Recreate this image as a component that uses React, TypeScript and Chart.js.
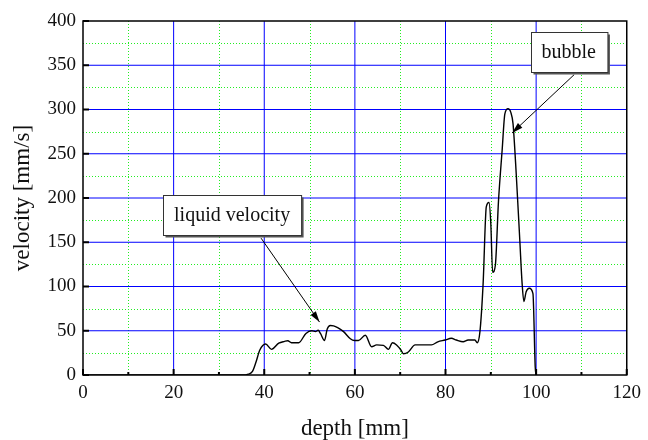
import React, { useEffect, useRef } from "react";
import { Chart, registerables } from "chart.js";

Chart.register(...registerables);

// Velocity profile along the measuring line
const depthMm = [
  0, 35, 36.5, 37.4, 38.2, 39, 40.3, 41.6, 43.2, 44.5, 45.2, 46, 47.6, 49.2, 50.5, 51.3, 51.9,
  52.4, 53.3, 53.9, 54.6, 55.3, 56.2, 57.5, 59, 59.9, 60.8, 62.3, 63.7, 64.8, 66.3, 67.4, 68.3,
  69.2, 70.2, 70.7, 71.8, 73.3, 76.9, 78.3, 79.9, 81.3, 82.4, 83.9, 85, 86.5, 87, 87.6, 88.3,
  89, 89.6, 90, 90.4, 91, 91.7, 92.5, 93.1, 93.8, 94.4, 94.9, 95.6, 96.4, 96.9, 97.3, 97.8,
  98.5, 99.3, 99.8, 100,
];
const velocityMms = [
  0, 0, 1, 4, 15, 28, 35, 29, 36, 38, 38.7, 36.5, 36.5, 47, 50, 49, 50.5,
  47, 39, 52, 56, 55.5, 53.5, 49, 41, 39, 39, 45, 32, 34, 33.5, 29, 36.5,
  34, 28, 24, 26, 34, 34, 37.5, 39.5, 41.5, 39.5, 37.6, 39.5, 39.5, 36.5, 49, 103,
  190, 195, 171, 116, 124, 197, 254, 295, 301, 297, 284, 228, 152, 104, 83, 94,
  98, 92, 9, 0,
];

const xTicks = [0, 20, 40, 60, 80, 100, 120];
const yTicks = [0, 50, 100, 150, 200, 250, 300, 350, 400];
const xMinor = [10, 30, 50, 70, 90, 110];
const yMinor = [25, 75, 125, 175, 225, 275, 325, 375];

// Callouts: label, box centre (data units), arrow tail and head (data units)
const callouts = [
  { text: "liquid velocity", box: [32.9, 181], tail: [39.3, 154.6], head: [52.2, 59.8] },
  { text: "bubble", box: [107.2, 364.8], tail: [108.4, 339.4], head: [94.7, 273.5] },
];

const SERIF = "'Liberation Serif', 'Times New Roman', serif";

const gridAndFrame = {
  id: "gridAndFrame",
  beforeDatasetsDraw(chart: any) {
    const { ctx, chartArea: a, scales } = chart;
    const xs = scales.x;
    const ys = scales.y;
    ctx.save();
    ctx.lineWidth = 1;
    // dotted minor grid
    ctx.strokeStyle = "#22ee22";
    ctx.setLineDash([1, 2]);
    for (const v of xMinor) {
      const px = Math.round(xs.getPixelForValue(v)) + 0.5;
      ctx.beginPath();
      ctx.moveTo(px, a.top);
      ctx.lineTo(px, a.bottom);
      ctx.stroke();
    }
    for (const v of yMinor) {
      const py = Math.round(ys.getPixelForValue(v)) + 0.5;
      ctx.beginPath();
      ctx.moveTo(a.left, py);
      ctx.lineTo(a.right, py);
      ctx.stroke();
    }
    // solid major grid
    ctx.setLineDash([]);
    ctx.strokeStyle = "#0000ff";
    for (const v of xTicks.slice(1, -1)) {
      const px = xs.getPixelForValue(v);
      ctx.beginPath();
      ctx.moveTo(px, a.top);
      ctx.lineTo(px, a.bottom);
      ctx.stroke();
    }
    for (const v of yTicks.slice(1, -1)) {
      const py = ys.getPixelForValue(v);
      ctx.beginPath();
      ctx.moveTo(a.left, py);
      ctx.lineTo(a.right, py);
      ctx.stroke();
    }
    ctx.restore();
  },
  afterDraw(chart: any) {
    const { ctx, chartArea: a, scales } = chart;
    const xs = scales.x;
    const ys = scales.y;
    ctx.save();
    // frame
    ctx.strokeStyle = "#000";
    ctx.lineWidth = 1.5;
    ctx.strokeRect(a.left, a.top, a.right - a.left, a.bottom - a.top);
    // tick marks
    ctx.lineWidth = 2;
    for (const v of xTicks) {
      const px = xs.getPixelForValue(v);
      ctx.beginPath();
      ctx.moveTo(px, a.bottom);
      ctx.lineTo(px, a.bottom - 6);
      ctx.stroke();
    }
    for (const v of xMinor) {
      const px = xs.getPixelForValue(v);
      ctx.beginPath();
      ctx.moveTo(px, a.bottom);
      ctx.lineTo(px, a.bottom - 3);
      ctx.stroke();
    }
    for (const v of yTicks) {
      const py = ys.getPixelForValue(v);
      ctx.beginPath();
      ctx.moveTo(a.left, py);
      ctx.lineTo(a.left + 6, py);
      ctx.stroke();
    }
    // callouts
    ctx.font = `20px ${SERIF}`;
    ctx.textAlign = "center";
    ctx.textBaseline = "middle";
    for (const c of callouts) {
      const tx = xs.getPixelForValue(c.tail[0]);
      const ty = ys.getPixelForValue(c.tail[1]);
      const hx = xs.getPixelForValue(c.head[0]);
      const hy = ys.getPixelForValue(c.head[1]);
      ctx.strokeStyle = "#000";
      ctx.fillStyle = "#000";
      ctx.lineWidth = 1;
      ctx.beginPath();
      ctx.moveTo(tx, ty);
      ctx.lineTo(hx, hy);
      ctx.stroke();
      const ang = Math.atan2(hy - ty, hx - tx);
      const len = 11;
      const half = 3.2;
      const bx = hx - len * Math.cos(ang);
      const by = hy - len * Math.sin(ang);
      ctx.beginPath();
      ctx.moveTo(hx, hy);
      ctx.lineTo(bx + half * Math.sin(ang), by - half * Math.cos(ang));
      ctx.lineTo(bx - half * Math.sin(ang), by + half * Math.cos(ang));
      ctx.closePath();
      ctx.fill();

      const cx = xs.getPixelForValue(c.box[0]);
      const cy = ys.getPixelForValue(c.box[1]);
      const w = ctx.measureText(c.text).width + 22;
      const h = 40;
      const l = Math.round(cx - w / 2) + 0.5;
      const t = Math.round(cy - h / 2) + 0.5;
      ctx.fillStyle = "#555";
      ctx.fillRect(l + 2, t + 2, w, h);
      ctx.fillStyle = "#fff";
      ctx.fillRect(l, t, w, h);
      ctx.strokeStyle = "#333";
      ctx.strokeRect(l, t, w, h);
      ctx.fillStyle = "#111";
      ctx.fillText(c.text, cx, cy + 1);
    }
    ctx.restore();
  },
};

export default function App() {
  const canvasRef = useRef<HTMLCanvasElement | null>(null);

  useEffect(() => {
    const canvas = canvasRef.current;
    if (!canvas) return;
    const points = depthMm.map((d, i) => ({ x: d, y: velocityMms[i] }));
    const chart = new Chart(canvas, {
      type: "line",
      data: {
        datasets: [
          {
            data: points,
            borderColor: "#000",
            borderWidth: 1.4,
            pointRadius: 0,
            cubicInterpolationMode: "monotone",
            fill: false,
          },
        ],
      },
      options: {
        animation: false,
        responsive: false,
        devicePixelRatio: 1,
        layout: { padding: { left: 0, top: 21, right: 19, bottom: 0 } },
        plugins: { legend: { display: false }, tooltip: { enabled: false } },
        scales: {
          x: {
            type: "linear",
            min: 0,
            max: 120,
            afterBuildTicks: (s: any) => {
              s.ticks = xTicks.map((v) => ({ value: v }));
            },
            afterFit: (s: any) => {
              s.height = 65;
            },
            grid: { display: false, drawTicks: false },
            border: { display: false },
            ticks: {
              padding: 7,
              color: "#111",
              font: { family: SERIF, size: 19 },
              maxRotation: 0,
              callback: (v: any) => String(v),
            },
            title: {
              display: true,
              text: "depth [mm]",
              color: "#111",
              font: { family: SERIF, size: 23, lineHeight: 1 },
              padding: { top: 0, bottom: 0 },
            },
          },
          y: {
            type: "linear",
            min: 0,
            max: 400,
            afterBuildTicks: (s: any) => {
              s.ticks = yTicks.map((v) => ({ value: v }));
            },
            afterFit: (s: any) => {
              s.width = 83;
            },
            grid: { display: false, drawTicks: false },
            border: { display: false },
            ticks: {
              padding: 7,
              color: "#111",
              font: { family: SERIF, size: 19 },
              callback: (v: any) => String(v),
            },
            title: {
              display: true,
              text: "velocity [mm/s]",
              color: "#111",
              font: { family: SERIF, size: 23, lineHeight: 1 },
              padding: { top: 11, bottom: 0 },
            },
          },
        },
      },
      plugins: [gridAndFrame],
    });
    return () => chart.destroy();
  }, []);

  return (
    <div style={{ position: "fixed", left: 0, top: 0, width: 648, height: 440, background: "#fff" }}>
      <canvas ref={canvasRef} width={648} height={440} />
    </div>
  );
}
